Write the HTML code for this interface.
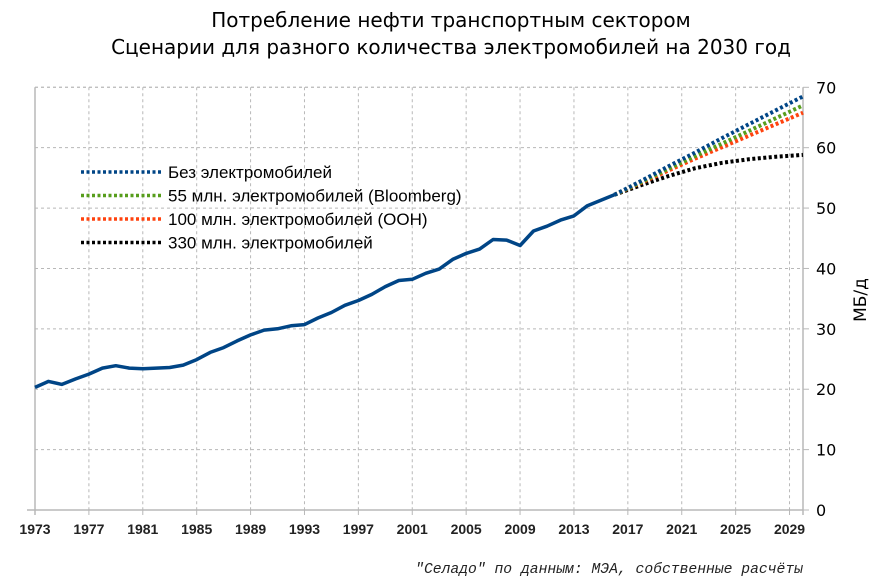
<!DOCTYPE html>
<html><head><meta charset="utf-8"><style>
body{margin:0;background:#fff;}
svg{display:block;font-family:"Liberation Sans","DejaVu Sans",sans-serif;}
</style></head><body>
<svg id="chart" width="880" height="584">
<text x="451" y="27" text-anchor="middle" font-size="20" font-family="DejaVu Sans, sans-serif" fill="#000">Потребление нефти транспортным сектором</text>
<text x="451" y="54" text-anchor="middle" font-size="20" font-family="DejaVu Sans, sans-serif" fill="#000">Сценарии для разного количества электромобилей на 2030 год</text>
<g id="grid"></g><g id="axes"></g><g id="series"></g>
<g id="legend"></g>
<text transform="translate(866,300) rotate(-90)" text-anchor="middle" font-size="17" font-family="DejaVu Sans, sans-serif">МБ/д</text>
<text x="803" y="573" text-anchor="end" font-size="14.7" font-style="italic" font-family="Liberation Mono, monospace" fill="#222">"Селадо" по данным: МЭА, собственные расчёты</text>
</svg>
<script>
const histYears=[1973,1974,1975,1976,1977,1978,1979,1980,1981,1982,1983,1984,1985,1986,1987,1988,1989,1990,1991,1992,1993,1994,1995,1996,1997,1998,1999,2000,2001,2002,2003,2004,2005,2006,2007,2008,2009,2010,2011,2012,2013,2014,2015,2016];
const histValues=[20.3,21.3,20.8,21.7,22.5,23.5,23.9,23.5,23.4,23.5,23.6,24.0,24.9,26.1,26.9,28.0,29.0,29.8,30.0,30.5,30.7,31.8,32.7,33.9,34.7,35.7,37.0,38.0,38.2,39.2,39.9,41.5,42.5,43.2,44.8,44.7,43.8,46.2,47.0,48.0,48.7,50.4,51.3,52.2];
const projYears=[2016,2018,2020,2022,2024,2026,2028,2030];
const projNoEV=[52.2,54.5,56.9,59.2,61.6,63.9,66.2,68.5];
const proj55=[52.2,54.3,56.5,58.6,60.7,62.8,64.9,67.0];
const proj100=[52.2,54.2,56.2,58.2,60.1,62.0,63.9,65.8];
const proj330=[52.2,53.8,55.3,56.6,57.5,58.1,58.5,58.8];
const seriesNames=["Без электромобилей","55 млн. электромобилей (Bloomberg)","100 млн. электромобилей (ООН)","330 млн. электромобилей"];
const yTicks=[0,10,20,30,40,50,60,70];
const xTicks=[1973,1977,1981,1985,1989,1993,1997,2001,2005,2009,2013,2017,2021,2025,2029];
const NS="http://www.w3.org/2000/svg";
const X0=35,X1=803,Y0=510,Y1=87.3;
const xs=y=>X0+(y-1973)*(X1-X0)/57;
const ys=v=>Y0-v*(Y0-Y1)/70;
function mk(t,a,p){const e=document.createElementNS(NS,t);for(const k in a)e.setAttribute(k,a[k]);p.appendChild(e);return e;}
const grid=document.getElementById('grid'),axes=document.getElementById('axes'),ser=document.getElementById('series'),leg=document.getElementById('legend');
yTicks.forEach(v=>{
 if(v>0){const l=mk('line',{x1:X0,x2:X1,y1:ys(v),y2:ys(v),stroke:'#b8b8b8','stroke-dasharray':'3,3'},grid);
 
 }
 mk('line',{x1:X1,x2:X1+6,y1:ys(v),y2:ys(v),stroke:'#b8b8b8'},axes);
 const t=mk('text',{x:X1+13,y:ys(v)+6,'font-size':16,'font-family':'DejaVu Sans, sans-serif',fill:'#000'},axes);t.textContent=v;
 
 
});
xTicks.forEach(y=>{
 if(y>1973){const l=mk('line',{x1:xs(y),x2:xs(y),y1:Y1,y2:Y0,stroke:'#b8b8b8','stroke-dasharray':'3,3'},grid);
 
 }
 mk('line',{x1:xs(y),x2:xs(y),y1:Y0,y2:Y0+5,stroke:'#b8b8b8'},axes);
 const t=mk('text',{x:xs(y),y:Y0+24,'text-anchor':'middle','font-size':14,'font-weight':'bold',fill:'#222'},axes);t.textContent=y;
 
 
});
mk('line',{x1:X0-8,x2:X1,y1:Y0,y2:Y0,stroke:'#b8b8b8','stroke-width':1.5},axes);
mk('line',{x1:X0,x2:X0,y1:Y1,y2:Y0+5,stroke:'#b8b8b8','stroke-width':1.5},axes);
mk('line',{x1:X1,x2:X1,y1:Y1,y2:Y0+5,stroke:'#b8b8b8','stroke-width':1.5},axes);
mk('line',{x1:X0,x2:X1,y1:Y1,y2:Y1,stroke:'#b8b8b8','stroke-dasharray':'3,3'},grid);
function pts(xa,va){return xa.map((x,i)=>xs(x).toFixed(1)+','+ys(va[i]).toFixed(1)).join(' ');}
const colors=['#004586','#579d1c','#ff420e','#000000'];
const projs=[projNoEV,proj55,proj100,proj330];
for(let i=3;i>=0;i--){
 const p=mk('polyline',{points:pts(projYears,projs[i]),fill:'none',stroke:colors[i],'stroke-width':4,'stroke-dasharray':'3,2.5'},ser);
 
 
}
const h=mk('polyline',{points:pts(histYears,histValues),fill:'none',stroke:'#004586','stroke-width':3.5,'stroke-linejoin':'round'},ser);


seriesNames.forEach((n,i)=>{
 const y=172+i*23.5;
 const l=mk('line',{x1:81,x2:161,y1:y,y2:y,stroke:colors[i],'stroke-width':3.5,'stroke-dasharray':'3,2.5'},leg);
 
 
 const t=mk('text',{x:168,y:y+6,'font-size':17,fill:'#000'},leg);t.textContent=n;
 
 
});
</script>
</body></html>
